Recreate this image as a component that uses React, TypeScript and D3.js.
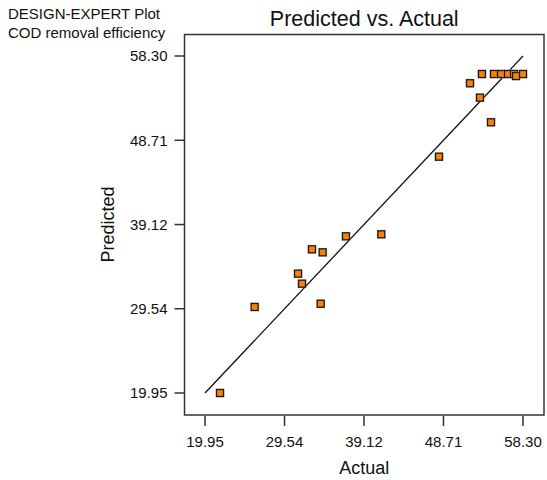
import React from "react";
import * as d3 from "d3";

const W = 547;
const H = 480;

// actual vs predicted COD removal efficiency (%)
const actual = [
  21.76, 25.94, 31.17, 31.65, 32.85, 34.14, 33.9, 36.95, 41.21, 48.17,
  51.91, 53.11, 54.44, 53.35, 54.8, 55.65, 56.49, 57.21, 57.46, 58.3,
];
const predicted = [
  19.95, 29.74, 33.53, 32.39, 36.3, 35.96, 30.11, 37.78, 38.01, 46.84,
  55.2, 53.56, 50.76, 56.25, 56.25, 56.25, 56.25, 56.25, 56.02, 56.25,
];
const ticks = [19.95, 29.54, 39.12, 48.71, 58.3];
const headerLines = ["DESIGN-EXPERT Plot", "COD removal efficiency"];

const margin = { top: 34.5, right: 3, bottom: 65, left: 184.5 };
const pad = { left: 20.5, right: 21, top: 21.5, bottom: 22 };
const FONT = "Liberation Sans, Arial, sans-serif";

export default function App() {
  const width = W - margin.left - margin.right;
  const height = H - margin.top - margin.bottom;

  const x = d3
    .scaleLinear()
    .domain([19.95, 58.3])
    .range([pad.left, width - pad.right]);
  const y = d3
    .scaleLinear()
    .domain([19.95, 58.3])
    .range([height - pad.bottom, pad.top]);

  const fit = d3.line<number>()
    .x((d) => x(d))
    .y((d) => y(d));

  const pts = actual.map((a, i) => ({ a, p: predicted[i] }));
  const yMid = y((ticks[0] + ticks[ticks.length - 1]) / 2);

  return (
    <svg
      width={W}
      height={H}
      style={{ position: "absolute", left: 0, top: 0, background: "#fff" }}
      fontFamily={FONT}
    >
      {headerLines.map((t, i) => (
        <text key={t} x={8} y={19 + i * 18.5} fontSize={15} fill="#111">
          {t}
        </text>
      ))}
      <text
        x={margin.left + width / 2}
        y={26}
        fontSize={21.5}
        textAnchor="middle"
        fill="#111"
      >
        Predicted vs. Actual
      </text>

      <g transform={`translate(${margin.left},${margin.top})`}>
        {/* fitted line y = x */}
        <path
          d={fit([19.95, 58.3]) ?? ""}
          fill="none"
          stroke="#111"
          strokeWidth={1.3}
        />

        {pts.map((d, i) => (
          <g key={i} transform={`translate(${x(d.a)},${y(d.p)})`}>
            <rect x={-4.5} y={-4.5} width={9} height={9} fill="#bbb" opacity={0.6} />
            <rect
              x={-3.5}
              y={-3.5}
              width={7}
              height={7}
              fill="#ff8000"
              stroke="#1a1a1a"
              strokeWidth={1.3}
            />
          </g>
        ))}

        <rect
          x={0}
          y={0}
          width={width}
          height={height}
          fill="none"
          stroke="#333"
          strokeWidth={1.5}
        />

        {/* x axis */}
        {ticks.map((t) => (
          <g key={"x" + t} transform={`translate(${x(t)},${height})`}>
            <line y1={1} y2={11} stroke="#333" strokeWidth={1.5} />
            <text y={31.5} fontSize={15} textAnchor="middle" fill="#111">
              {t.toFixed(2)}
            </text>
          </g>
        ))}
        <text
          x={width / 2}
          y={height + 59}
          fontSize={18}
          textAnchor="middle"
          fill="#111"
        >
          Actual
        </text>

        {/* y axis */}
        {ticks.map((t) => (
          <g key={"y" + t} transform={`translate(0,${y(t)})`}>
            <line x1={-10} x2={0} stroke="#333" strokeWidth={1.5} />
            <text x={-17} dy="0.35em" fontSize={15} textAnchor="end" fill="#111">
              {t.toFixed(2)}
            </text>
          </g>
        ))}
        <text
          transform={`translate(-71,${yMid}) rotate(-90)`}
          fontSize={18}
          textAnchor="middle"
          fill="#111"
        >
          Predicted
        </text>
      </g>
    </svg>
  );
}
